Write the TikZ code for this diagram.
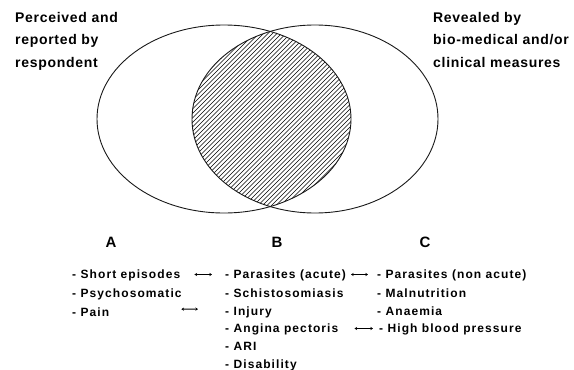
\documentclass[tikz,border=0pt]{standalone}
\usepackage{fontspec}
\setmainfont{Liberation Sans}
\newfontfamily\headfont{Liberation Sans}[LetterSpace=5]
\newfontfamily\listfont{Liberation Sans}[LetterSpace=9]
\usetikzlibrary{arrows.meta}
\tikzset{
  venn/.style={line width=0.9pt,black!90},
  hatch/.style={line width=0.7pt,black},
  head/.style={font=\headfont\bfseries\fontsize{14}{22.5}\selectfont,align=left,inner sep=0pt,anchor=north west},
  setlab/.style={font=\bfseries\fontsize{15}{18}\selectfont,inner sep=0pt,anchor=base},
  item/.style={font=\listfont\bfseries\fontsize{12}{14}\selectfont,inner sep=0pt,anchor=base west,text height=9pt,text depth=2pt},
  link/.style={{Stealth[length=2.6pt,width=3.2pt]}-{Stealth[length=2.6pt,width=3.2pt]},line width=0.9pt},
}

\begin{document}
\begin{tikzpicture}[x=1pt,y=-1pt]
  \useasboundingbox (0,0) rectangle (574,370);
  % overlap of the two sets, hatched
  \begin{scope}
    \clip (224,119) ellipse [x radius=127,y radius=94];
    \clip (315,119) ellipse [x radius=123,y radius=94];
    \foreach \s in {270,274.5,...,516} \draw[hatch] (\s-240,240) -- (\s,0);
  \end{scope}
  \draw[venn] (224,119) ellipse [x radius=127,y radius=94];
  \draw[venn] (315,119) ellipse [x radius=123,y radius=94];
  % headings
  \node[head] (perc) at (15,12) {Perceived and\\reported by\\respondent};
  \node[head] (reve) at (433,12) {Revealed by\\bio-medical and/or\\clinical measures};
  \node[setlab] (setA) at (111,247) {A};
  \node[setlab] (setB) at (277,247) {B};
  \node[setlab] (setC) at (425,247) {C};
  % column A
  \node[item] (epis) at (72,278) {- Short episodes};
  \node[item] (psyc) at (72,297) {- Psychosomatic};
  \node[item] (pain) at (72,316) {- Pain};
  % column B
  \node[item] (paac) at (225,278) {- Parasites (acute)};
  \node[item] (schi) at (225,297) {- Schistosomiasis};
  \node[item] (inju) at (225,315.5) {- Injury};
  \node[item] (angi) at (225,332) {- Angina pectoris};
  \node[item] (ari)  at (225,350) {- ARI};
  \node[item] (disa) at (225,368) {- Disability};
  % column C
  \node[item] (pana) at (377,278) {- Parasites (non acute)};
  \node[item] (maln) at (377,297) {- Malnutrition};
  \node[item] (anae) at (377,315) {- Anaemia};
  \node[item] (hbp)  at (379,332) {- High blood pressure};
  % links
  \draw[link,shorten <=14pt,shorten >=13pt] (epis.east) -- (paac.west);
  \draw[link,shorten <=72pt,shorten >=27pt] ([yshift=3pt]pain.east) -- ([yshift=3pt]inju.west);
  \draw[link,shorten <=5pt,shorten >=9pt] (paac.east) -- (pana.west);
  \draw[link,shorten <=16pt,shorten >=6pt] (angi.east) -- (hbp.west);
\end{tikzpicture}
\end{document}
